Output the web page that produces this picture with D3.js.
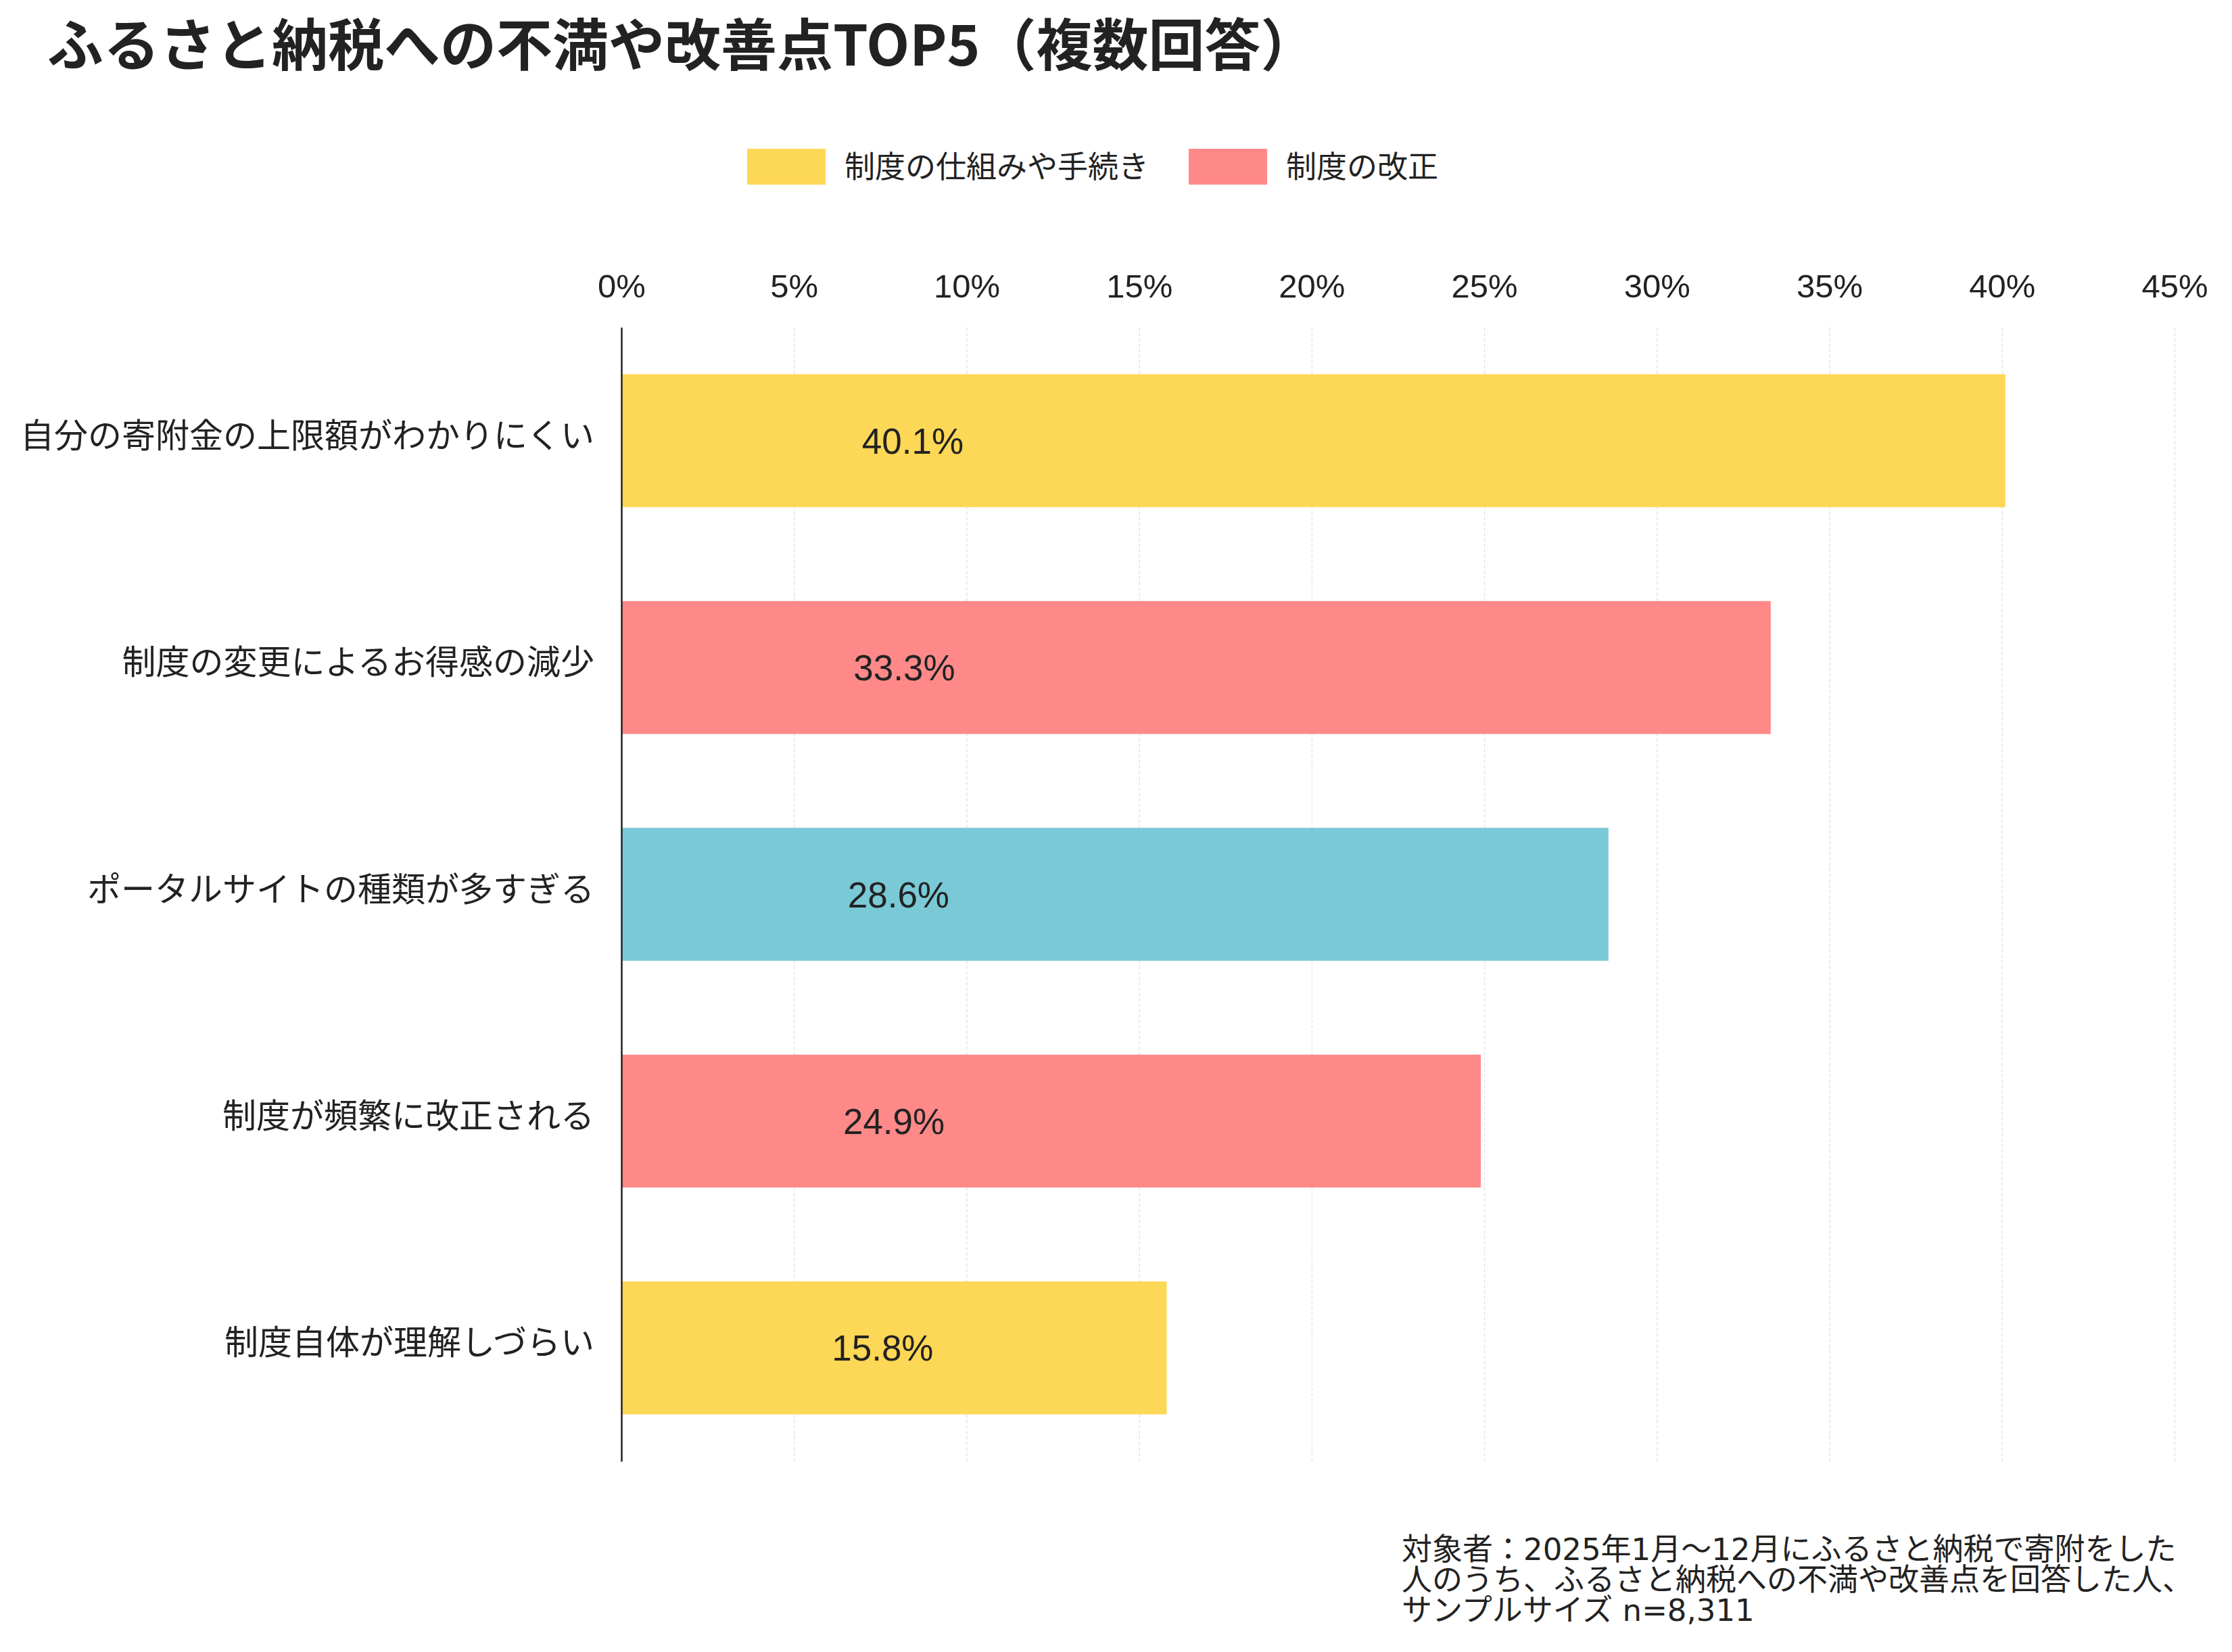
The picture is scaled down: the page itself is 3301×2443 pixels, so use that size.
<!DOCTYPE html>
<html>
<head>
<meta charset="utf-8">
<script src="https://cdn.jsdelivr.net/npm/d3@7"></script>
<style>
  body { margin: 0; background: #fff; }
  text { fill: #222; }
</style>
</head>
<body>
<svg id="chart"></svg>
<script>
// chart data
var categories = [
    "自分の寄附金の上限額がわかりにくい",
    "制度の変更によるお得感の減少",
    "ポータルサイトの種類が多すぎる",
    "制度が頻繁に改正される",
    "制度自体が理解しづらい"
];
var values = [40.1, 33.3, 28.6, 24.9, 15.8];
var groups = ["制度の仕組みや手続き", "制度の改正", "ポータルサイト", "制度の改正", "制度の仕組みや手続き"];
var legendItems = ["制度の仕組みや手続き", "制度の改正"];
var xTicks = [0, 5, 10, 15, 20, 25, 30, 35, 40, 45];
var title = "ふるさと納税への不満や改善点TOP5（複数回答）";
var noteLines = [
    "対象者：2025年1月～12月にふるさと納税で寄附をした",
    "人のうち、ふるさと納税への不満や改善点を回答した人、",
    "サンプルサイズ n=8,311"
];

var W = 3301, H = 2443;
var jp = "'Noto Sans CJK JP', 'Noto Sans', sans-serif";
var latin = "'Liberation Sans', Arial, sans-serif";

var svg = d3.select("#chart").attr("width", W).attr("height", H);

var plot = { left: 919, right: 3216, top: 484, bottom: 2161 };

var x = d3.scaleLinear().domain([0, 45]).range([plot.left, plot.right]);
var y = d3.scaleBand().domain(categories).range([plot.top, plot.bottom])
    .paddingInner(0.414).paddingOuter(0.207);
var color = d3.scaleOrdinal()
    .domain(["制度の仕組みや手続き", "制度の改正", "ポータルサイト"])
    .range(["#FDD756", "#FF8989", "#7AC9D6"]);

// title
svg.append("text")
    .attr("x", 70).attr("y", 97)
    .style("font-family", jp).style("font-size", "83px").style("font-weight", "bold")
    .text(title);

// legend
var legend = svg.append("g");
var legendX = [1105, 1758];
legendItems.forEach(function (d, i) {
    legend.append("rect")
        .attr("x", legendX[i]).attr("y", 220)
        .attr("width", 116).attr("height", 53)
        .attr("fill", color(d));
    legend.append("text")
        .attr("x", legendX[i] + 144).attr("y", 247)
        .attr("dy", "0.36em")
        .style("font-family", jp).style("font-size", "45px")
        .text(d);
});

// dashed grid
svg.append("g")
    .attr("transform", "translate(0," + plot.top + ")")
    .call(d3.axisBottom(x).tickValues(xTicks).tickSize(plot.bottom - plot.top).tickFormat(""))
    .call(function (g) {
        g.select(".domain").remove();
        g.selectAll(".tick line")
            .attr("stroke", "#e6e6e6").attr("stroke-width", 1.5)
            .attr("stroke-dasharray", "5,3");
    });

// top tick labels
svg.append("g")
    .attr("transform", "translate(0," + plot.top + ")")
    .call(d3.axisTop(x).tickValues(xTicks).tickSize(0).tickPadding(44)
        .tickFormat(function (d) { return d + "%"; }))
    .call(function (g) {
        g.select(".domain").remove();
        g.selectAll(".tick text")
            .attr("fill", "#222")
            .style("font-family", latin).style("font-size", "49px");
    });

// bars
svg.append("g").selectAll("rect")
    .data(values)
    .join("rect")
    .attr("x", x(0))
    .attr("y", function (d, i) { return y(categories[i]); })
    .attr("width", function (d) { return x(d) - x(0); })
    .attr("height", y.bandwidth())
    .attr("fill", function (d, i) { return color(groups[i]); });

// value labels
svg.append("g").selectAll("text")
    .data(values)
    .join("text")
    .attr("x", function (d) { return x(7 + d * 0.036); })
    .attr("y", function (d, i) { return y(categories[i]) + y.bandwidth() / 2; })
    .attr("dy", "0.36em")
    .attr("text-anchor", "middle")
    .style("font-family", latin).style("font-size", "53px")
    .text(function (d) { return d.toFixed(1) + "%"; });

// category labels + left axis line
svg.append("g")
    .attr("transform", "translate(" + plot.left + ",0)")
    .call(d3.axisLeft(y).tickSize(0).tickPadding(40))
    .call(function (g) {
        g.select(".domain").attr("stroke", "#222").attr("stroke-width", 2.5);
        g.selectAll(".tick text")
            .attr("fill", "#222").attr("dy", "0.2em")
            .style("font-family", jp).style("font-size", "50px");
    });

// footnote (latin glyphs a bit wider than the CJK font's own)
svg.append("g").selectAll("text")
    .data(noteLines)
    .join("text")
    .attr("x", 2073)
    .attr("y", function (d, i) { return 2307 + i * 45; })
    .style("font-family", "'DejaVu Sans', " + jp).style("font-size", "45px")
    .text(function (d) { return d; });
</script>
</body>
</html>
